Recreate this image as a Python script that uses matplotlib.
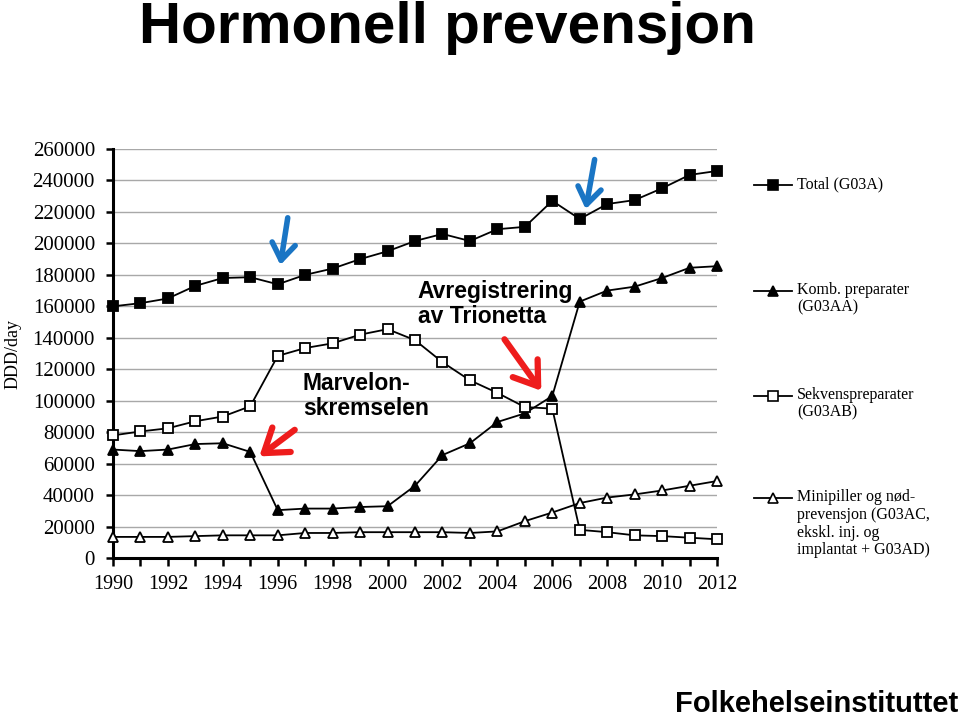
import matplotlib
matplotlib.use("Agg")
import matplotlib.pyplot as plt
from matplotlib.lines import Line2D

# data (DDD/day)
years = list(range(1990, 2013))
total = [160000, 162000, 165000, 173000, 178000, 178500, 174000, 180000, 184000, 190000,
         195000, 201500, 206000, 201500, 209000, 210500, 227000, 215500, 225000, 227500,
         235000, 243500, 246000]
komb = [69000, 68000, 69000, 72500, 73000, 67500, 30500, 31500, 31500, 32500,
        33000, 46000, 65500, 73000, 86500, 92000, 103000, 163000, 170000, 172500,
        178000, 184500, 185500]
sekvens = [78000, 80500, 82500, 87000, 90000, 96500, 128500, 133500, 136500, 142000,
           145500, 138500, 124500, 113000, 105000, 96000, 95000, 18000, 16500, 14500,
           14000, 13000, 12000]
mini = [13500, 13500, 13500, 14000, 14500, 14500, 14500, 16000, 16000, 16500,
        16500, 16500, 16500, 16000, 17000, 23500, 29000, 35000, 38500, 40500,
        43000, 46000, 49000]

labels = ["Total (G03A)",
          "Komb. preparater\n(G03AA)",
          "Sekvenspreparater\n(G03AB)",
          "Minipiller og nød-\nprevensjon (G03AC,\nekskl. inj. og\nimplantat + G03AD)"]
series = [total, komb, sekvens, mini]
styles = [dict(marker="s", mfc="black"), dict(marker="^", mfc="black"),
          dict(marker="s", mfc="white"), dict(marker="^", mfc="white")]

serif = "Liberation Serif"
sans = "Liberation Sans"

fig = plt.figure(figsize=(9.6, 7.23), dpi=100)
ax = fig.add_axes([0.1177, 0.228, 0.6292, 0.566])

for vals, st in zip(series, styles):
    ax.plot(years, vals, color="black", lw=1.3, mec="black", mew=1.3,
            ms=7.5, clip_on=False, zorder=3, **st)

ax.set_xlim(1990, 2012)
ax.set_ylim(0, 260000)
ax.set_yticks(range(0, 260001, 20000))
ax.set_xticks(range(1990, 2013))
ax.set_xticklabels([str(y) if y % 2 == 0 else "" for y in years])
ax.yaxis.grid(True, color="#a8a8a8", lw=1.0)
ax.set_axisbelow(True)
for s in ["top", "right"]:
    ax.spines[s].set_visible(False)
for s in ["left", "bottom"]:
    ax.spines[s].set_linewidth(2.2)
ax.tick_params(axis="y", direction="out", length=5, width=1.8, pad=8)
ax.tick_params(axis="x", direction="out", length=6, width=1.8, pad=6)
for t in ax.get_yticklabels():
    t.set_fontfamily(serif)
    t.set_fontsize(15)
for t in ax.get_xticklabels():
    t.set_fontfamily(serif)
    t.set_fontsize(14.5)
ax.set_ylabel("DDD/day", fontfamily=serif, fontsize=13, labelpad=8)

# annotations
ax.text(1996.92, 118500, "Marvelon-\nskremselen", fontfamily=sans, fontsize=16.5,
        fontweight="bold", va="top", ha="left", linespacing=1.12)
ax.text(2001.1, 177000, "Avregistrering\nav Trionetta", fontfamily=sans, fontsize=16.5,
        fontweight="bold", va="top", ha="left", linespacing=1.12)
blue = "#1a75c4"
red = "#ee1c1c"
blue_kw = dict(arrowstyle="->,head_length=0.6,head_width=0.42", lw=4.0,
               mutation_scale=20, color=blue)
red_kw = dict(arrowstyle="->,head_length=0.8,head_width=0.55", lw=4.5,
              mutation_scale=20, color=red)
ax.annotate("", xy=(1996.08, 184500), xytext=(1996.38, 218000), arrowprops=blue_kw)
ax.annotate("", xy=(2007.2, 220000), xytext=(2007.56, 255000),
            arrowprops=blue_kw, annotation_clip=False)
ax.annotate("", xy=(1995.25, 63600), xytext=(1996.7, 82600), arrowprops=red_kw)
ax.annotate("", xy=(2005.66, 104900), xytext=(2004.2, 140500), arrowprops=red_kw)

# legend drawn by hand on the right
W, H = 960.0, 723.0
leg_rows = [185, 291, 396, 498]
for lab, st, py in zip(labels, styles, leg_rows):
    yf = 1 - py / H
    fig.add_artist(Line2D([754 / W, 792 / W], [yf, yf], color="black", lw=1.3))
    fig.add_artist(Line2D([773 / W], [yf], color="black", ms=7, mec="black",
                          mew=1.2, **st))
    fig.text(797 / W, yf + 9 / H, lab, fontfamily=serif, fontsize=11.5,
             va="top", ha="left", linespacing=1.15)

fig.text(447 / W, 1 - 1 / H, "Hormonell prevensjon", fontfamily=sans,
         fontweight="bold", fontsize=42, ha="center", va="top")
fig.text(958 / W, 5 / H, "Folkehelseinstituttet", fontfamily=sans,
         fontweight="bold", fontsize=21, ha="right", va="bottom")

fig.savefig("out.png", dpi=100)
